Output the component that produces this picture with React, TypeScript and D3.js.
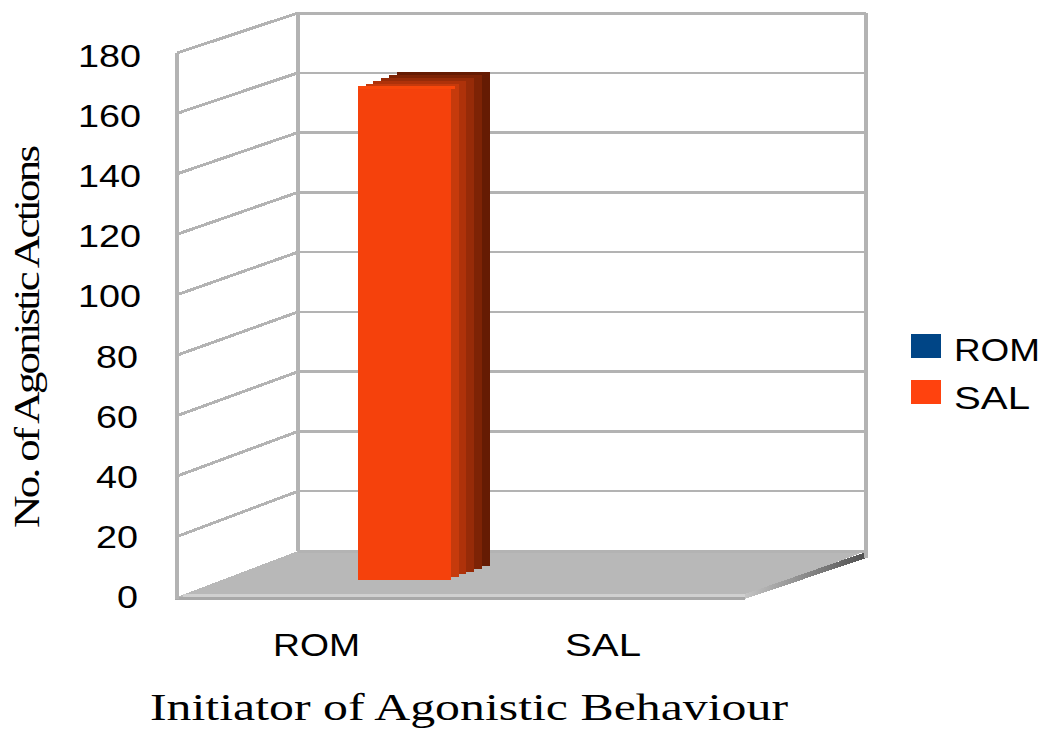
import React from "react";
import * as d3 from "d3";

// Chart values
const categories = ["ROM", "SAL"];
const seriesNames = ["ROM", "SAL"];
const salValues = [164, 0];
const yTicks = [0, 20, 40, 60, 80, 100, 120, 140, 160, 180];
const legendColors = ["#004586", "#ff420e"];
const xTitle = "Initiator of Agonistic Behaviour";
const yTitle = "No. of Agonistic Actions";

// Oblique projection of the chart box; heights shrink slightly towards the back
const originX = 177;
const originY = 597;
const boxWidth = 568;
const boxHeight = 544;
const backHeight = 538;
const depthDx = 121;
const depthDy = 46;

const x = d3.scaleBand().domain(categories).range([0, boxWidth]);
const y = d3.scaleLinear().domain([0, 180]).range([0, 1]);
const heightAt = d3.scaleLinear().domain([0, 1]).range([boxHeight, backHeight]);
const project = (u: number, v: number, t: number): [number, number] => [
  originX + u + depthDx * t,
  originY - y(v) * heightAt(t) - depthDy * t,
];
const pts = (list: [number, number][]) => list.map((p) => p.join(",")).join(" ");

// Baselines of the value axis labels
const tickBaseline = d3.scaleLinear().domain([0, 180]).range([608, 67]);

const GRID = "#b3b3b3";
const sideShade = d3
  .scaleLinear<string>()
  .domain([0, 0.2, 1])
  .range(["#f5410c", "#c63a0c", "#651b03"]);

function Bar({ value, category }: { value: number; category: string }) {
  const u0 = x(category)! + 136;
  const width = 93;
  const slices = 6;
  const [fx, fy] = project(u0, value, 0.37);
  const [, by] = project(u0, 0, 0.37);
  const indices = d3.range(slices - 1, -1, -1);
  return (
    <g shapeRendering="crispEdges">
      {indices.map((k) => (
        <rect
          key={k}
          x={fx + k * 7.8}
          y={fy - k * 2.8}
          width={width}
          height={by - fy}
          fill={sideShade(k / (slices - 1))}
        />
      ))}
      <rect x={fx} y={fy} width={width + 4} height={3} fill="#f9470b" />
    </g>
  );
}

export default function App() {
  const sans = "'Liberation Sans', Arial, sans-serif";
  const serif = "'Liberation Serif', 'DejaVu Serif', serif";
  const floor = pts([
    project(0, 0, 0),
    project(0, 0, 1),
    project(boxWidth, 0, 1),
    project(boxWidth, 0, 0),
  ]);
  const [backX0, backTop] = project(0, 180, 1);
  const [backX1, backBottom] = project(boxWidth, 0, 1);
  const [frontX, frontTop] = project(0, 180, 0);
  const [frontEnd, frontBottom] = project(boxWidth, 0, 0);
  const titleStretch = 1.25;
  return (
    <svg
      width={1046}
      height={729}
      viewBox="0 0 1046 729"
      style={{ position: "absolute", left: 0, top: 0, background: "#fff" }}
    >
      <defs>
        <linearGradient id="floorEdge" x1="0" x2="1" y1="0" y2="0">
          <stop offset="0" stopColor="#c4c4c4" />
          <stop offset="1" stopColor="#505050" />
        </linearGradient>
      </defs>

      {/* Floor */}
      <polygon points={floor} fill="#b8b8b8" shapeRendering="crispEdges" />
      <g shapeRendering="crispEdges">
        <line x1={frontX + 6} y1={frontBottom - 2} x2={frontEnd} y2={frontBottom - 2} stroke="#d0d0d0" strokeWidth={3} />
        <line x1={frontX - 2} y1={frontBottom + 1} x2={frontEnd} y2={frontBottom + 1} stroke="#a8a8a8" strokeWidth={3} />
        <polygon
          points={pts([
            [frontEnd, frontBottom - 3],
            [backX1, backBottom + 1],
            [backX1, backBottom + 7],
            [frontEnd, frontBottom + 2],
          ])}
          fill="url(#floorEdge)"
        />
      </g>

      {/* Gridlines on the back and side walls */}
      <g shapeRendering="crispEdges">
        {yTicks.map((t) => {
          const [x0, y0] = project(0, t, 0);
          const [x1, y1] = project(0, t, 1);
          const [x2, y2] = project(boxWidth, t, 1);
          return (
            <g key={t}>
              {t > 0 && <line x1={x0} y1={y0} x2={x1} y2={y1} stroke={GRID} strokeWidth={3} />}
              <line x1={x1} y1={y1} x2={x2} y2={y2} stroke={GRID} strokeWidth={t === 180 || t === 0 ? 3 : 2.5} />
            </g>
          );
        })}

        {/* Wall edges */}
        <line x1={frontX} y1={frontTop} x2={frontX} y2={frontBottom + 2} stroke={GRID} strokeWidth={4} />
        <line x1={backX0} y1={backTop} x2={backX0} y2={backBottom} stroke={GRID} strokeWidth={4} />
        <line x1={backX1} y1={backTop} x2={backX1} y2={backBottom + 7} stroke={GRID} strokeWidth={4} />
      </g>

      {categories.map((c, i) =>
        salValues[i] > 0 ? <Bar key={c} category={c} value={salValues[i]} /> : null
      )}

      {/* Value axis labels */}
      {yTicks.map((t) => (
        <text
          key={t}
          x={t >= 100 ? 141 : 138}
          y={tickBaseline(t)}
          textAnchor="end"
          fontFamily={sans}
          fontSize={32}
          textLength={String(t).length * 21}
          lengthAdjust="spacingAndGlyphs"
        >
          {t}
        </text>
      ))}

      {/* Category labels */}
      {categories.map((c, i) => (
        <text
          key={c}
          x={[273, 565][i]}
          y={656}
          fontFamily={sans}
          fontSize={32}
          textLength={[87, 76][i]}
          lengthAdjust="spacingAndGlyphs"
        >
          {c}
        </text>
      ))}

      {/* Axis titles */}
      <text
        x={150}
        y={720}
        fontFamily={serif}
        fontSize={37}
        textLength={638}
        lengthAdjust="spacingAndGlyphs"
      >
        {xTitle}
      </text>
      <text
        transform={`translate(39,528) rotate(-90) scale(${titleStretch},1)`}
        fontFamily={serif}
        fontSize={36}
        textLength={383 / titleStretch}
        lengthAdjust="spacing"
      >
        {yTitle}
      </text>

      {/* Legend */}
      {seriesNames.map((s, i) => (
        <g key={s}>
          <rect x={911} y={334 + i * 46} width={30} height={24} fill={legendColors[i]} />
          <text
            x={954}
            y={361 + i * 48}
            fontFamily={sans}
            fontSize={32}
            textLength={[86, 76][i]}
            lengthAdjust="spacingAndGlyphs"
          >
            {s}
          </text>
        </g>
      ))}
    </svg>
  );
}
